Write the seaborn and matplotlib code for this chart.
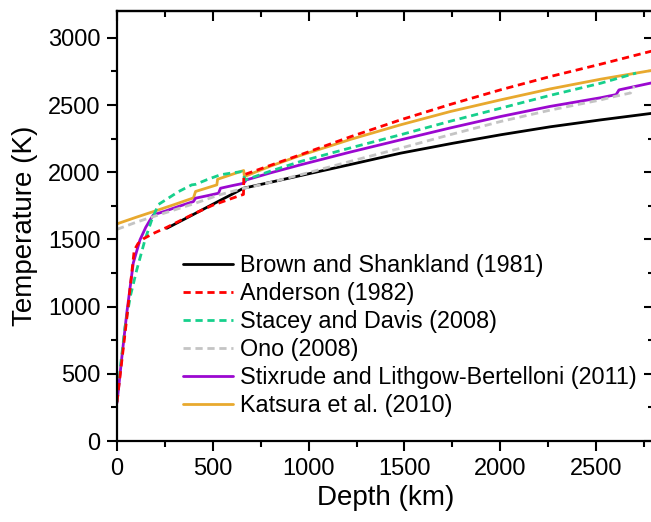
import matplotlib
matplotlib.use("Agg")
import matplotlib.pyplot as plt
import seaborn as sns
import pandas as pd
from matplotlib.ticker import MultipleLocator

# ---- data (depth in km, temperature in K) ----
labels = ["Brown and Shankland (1981)", "Anderson (1982)", "Stacey and Davis (2008)",
          "Ono (2008)", "Stixrude and Lithgow-Bertelloni (2011)", "Katsura et al. (2010)"]

black_depth = [260, 400, 500, 600, 660, 800, 957, 1219, 1480, 1750, 2003, 2260, 2526, 2800]
black_T = [1583, 1687, 1762, 1836, 1881, 1925, 1975, 2058, 2142, 2215, 2279, 2338, 2390, 2440]

red_depth = [0, 50, 90, 110, 138, 190, 260, 400, 500, 626, 660, 662, 800, 957, 1220, 1480, 1740, 2003, 2260, 2526, 2800]
red_T = [290, 900, 1420, 1470, 1505, 1545, 1590, 1690, 1755, 1819, 1835, 1981, 2051, 2130, 2265, 2390, 2505, 2614, 2712, 2805, 2905]

green_depth = [0, 20, 42, 70, 103, 146, 180, 216, 260, 320, 390, 410, 470, 539, 600, 652, 670, 800, 957, 1220, 1480, 1740, 2003, 2260, 2526, 2709]
green_T = [290, 580, 851, 1080, 1273, 1497, 1640, 1760, 1800, 1855, 1906, 1910, 1945, 1981, 1995, 2005, 1943, 2008, 2080, 2182, 2279, 2380, 2477, 2572, 2663, 2738]

grey_depth = [0, 100, 190, 300, 400, 530, 660, 748, 957, 1220, 1480, 1740, 2003, 2260, 2526, 2600, 2680, 2700]
grey_T = [1575, 1628, 1670, 1720, 1765, 1830, 1880, 1906, 1981, 2082, 2179, 2280, 2378, 2462, 2539, 2565, 2590, 2640]

purple_depth = [0, 25, 51, 70, 85, 120, 150, 173, 190, 250, 320, 399, 410, 470, 530, 540, 600, 661, 675, 800, 957, 1220, 1480, 1740, 2003, 2260, 2526, 2605, 2620, 2800]
purple_T = [283, 620, 953, 1160, 1325, 1497, 1590, 1646, 1683, 1710, 1745, 1782, 1807, 1825, 1844, 1881, 1900, 1918, 1943, 1995, 2055, 2151, 2241, 2330, 2415, 2490, 2555, 2578, 2613, 2668]

orange_depth = [0, 100, 200, 300, 399, 410, 521, 525, 661, 665, 800, 957, 1220, 1480, 1740, 2003, 2260, 2526, 2800]
orange_T = [1616, 1665, 1712, 1760, 1809, 1857, 1906, 1948, 2013, 1968, 2045, 2125, 2245, 2353, 2452, 2539, 2620, 2693, 2760]

series = [
    (black_depth, black_T, "#000000", "-", 2.2),
    (red_depth, red_T, "#ff0000", "--", 2.5),
    (green_depth, green_T, "#16d08c", "--", 2.3),
    (grey_depth, grey_T, "#c4c4c4", "--", 2.4),
    (purple_depth, purple_T, "#9b08d0", "-", 2.1),
    (orange_depth, orange_T, "#e8a92e", "-", 2.0),
]

sns.set_theme(style="ticks")
plt.rcParams["font.family"] = ["Liberation Sans", "DejaVu Sans"]
plt.rcParams["text.color"] = "black"
plt.rcParams["axes.labelcolor"] = "black"
plt.rcParams["xtick.color"] = "black"
plt.rcParams["ytick.color"] = "black"

fig = plt.figure(figsize=(6.51, 5.22), dpi=100)
ax = fig.add_axes([117 / 651, 81 / 522, 536.5 / 651, 430 / 522])

for (d, t, c, ls, z), lab in zip(series, labels):
    df = pd.DataFrame({"Depth": d, "T": t})
    sns.lineplot(data=df, x="Depth", y="T", ax=ax, color=c, sort=False,
                 estimator=None, label=lab, linewidth=2.0, zorder=z)
    line = ax.get_lines()[-1]
    if ls == "--":
        line.set_dashes((2.6, 1.7))

ax.set_xlim(0, 2800)
ax.set_ylim(0, 3200)
ax.xaxis.set_major_locator(MultipleLocator(500))
ax.xaxis.set_minor_locator(MultipleLocator(250))
ax.yaxis.set_major_locator(MultipleLocator(500))
ax.yaxis.set_minor_locator(MultipleLocator(250))

for s in ax.spines.values():
    s.set_linewidth(1.6)
    s.set_color("black")
    s.set_visible(True)

ax.tick_params(which="both", direction="out", top=False, right=False,
               width=1.5, color="black", labelsize=17, labelcolor="black")
ax.tick_params(which="major", length=7, pad=5)
ax.tick_params(which="minor", length=4)

# inward ticks on top and right
axt = ax.secondary_xaxis("top")
axt.xaxis.set_major_locator(MultipleLocator(500))
axt.xaxis.set_minor_locator(MultipleLocator(250))
axt.tick_params(which="both", direction="in", width=1.5, labeltop=False)
axt.tick_params(which="major", length=7)
axt.tick_params(which="minor", length=4)
axt.spines["top"].set_linewidth(1.6)
axr = ax.secondary_yaxis("right")
axr.yaxis.set_major_locator(MultipleLocator(500))
axr.yaxis.set_minor_locator(MultipleLocator(250))
axr.tick_params(which="both", direction="in", width=1.5, labelright=False)
axr.tick_params(which="major", length=7)
axr.tick_params(which="minor", length=4)

ax.set_xlabel("Depth (km)", fontsize=20, labelpad=4, color="black")
ax.set_ylabel("Temperature (K)", fontsize=20, labelpad=7, color="black")

leg = ax.legend(loc="lower left", bbox_to_anchor=(0.123, 0.055), frameon=False,
                fontsize=16.8, handlelength=2.15, handletextpad=0.3,
                labelspacing=0.22, borderpad=0, borderaxespad=0)
for txt in leg.get_texts():
    txt.set_color("black")
for h in leg.get_lines():
    h.set_linewidth(2.0)

fig.savefig("out.png", dpi=100)
